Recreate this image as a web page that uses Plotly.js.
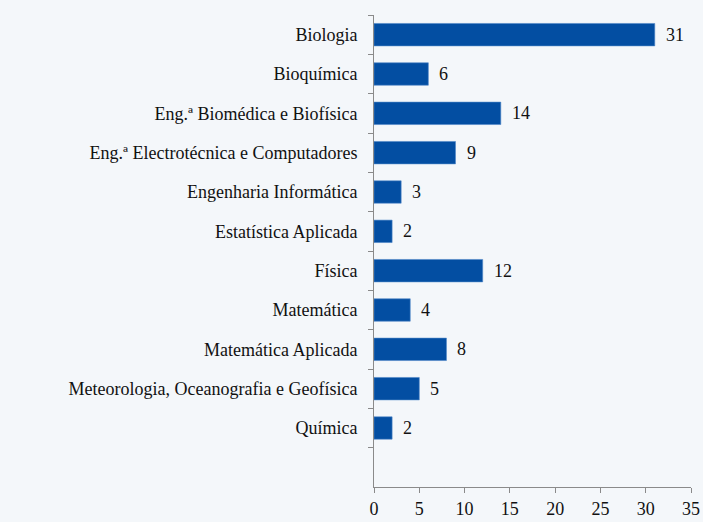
<!DOCTYPE html>
<html><head><meta charset="utf-8">
<script src="https://cdn.plot.ly/plotly-3.0.1.min.js"></script>
<style>
@font-face{font-family:"RefSerif";src:local("Liberation Serif"),local("LiberationSerif"),local("Times New Roman");}
body{margin:0;background:#f4f7fa;}
</style>
</head><body>
<div id="chart" style="width:703px;height:522px;"></div>
<script>
const categories = ["Biologia","Bioquímica","Eng.ª Biomédica e Biofísica","Eng.ª Electrotécnica e Computadores","Engenharia Informática","Estatística Aplicada","Física","Matemática","Matemática Aplicada","Meteorologia, Oceanografia e Geofísica","Química"];
const values = [31,6,14,9,3,2,12,4,8,5,2];
const emptySlot = " ";
const xTicks = [0,5,10,15,20,25,30,35];

const FAM = "serif";
const trace = {
  type:"bar", orientation:"h", x:values, y:categories,
  marker:{color:"#034ea2", line:{color:"#4f86c8", width:0.6}},
  hoverinfo:"none"
};
const annotations = categories.map((c,i)=>({
  x:values[i], y:c, xref:"x", yref:"y", text:String(values[i]),
  showarrow:false, xanchor:"left", xshift:9, font:{family:FAM, size:18, color:"#111111"}
}));
const layout = {
  width:703, height:522,
  font:{family:FAM, size:18, color:"#111111"},
  paper_bgcolor:"#f4f7fa", plot_bgcolor:"#f4f7fa",
  margin:{l:374, r:12, t:15, b:35},
  bargap:0.43, showlegend:false,
  xaxis:{range:[0,35], tickvals:xTicks, showgrid:false, zeroline:false,
    showline:true, linecolor:"#8a8a8a", linewidth:1, ticks:"outside", ticklen:5, tickcolor:"#8a8a8a",
    tickfont:{family:FAM, size:18, color:"#111111"}},
  yaxis:{type:"category", categoryarray:categories.concat([emptySlot]), categoryorder:"array",
    range:[11.5,-0.5], tickson:"boundaries", showgrid:false, zeroline:false,
    showline:true, linecolor:"#8a8a8a", linewidth:1, ticks:"outside", ticklen:5, tickcolor:"#8a8a8a",
    tickfont:{family:FAM, size:18, color:"#111111"}, ticklabelstandoff:12},
  annotations:annotations
};
Plotly.newPlot("chart",[trace],layout,{displayModeBar:false}).then(function(){
  document.querySelectorAll("#chart svg text").forEach(function(t){
    t.style.setProperty("font-family", "'Liberation Serif', RefSerif, 'Times New Roman', serif", "important");
    t.setAttribute("font-family", "Liberation Serif");
  });
});
</script>
</body></html>
